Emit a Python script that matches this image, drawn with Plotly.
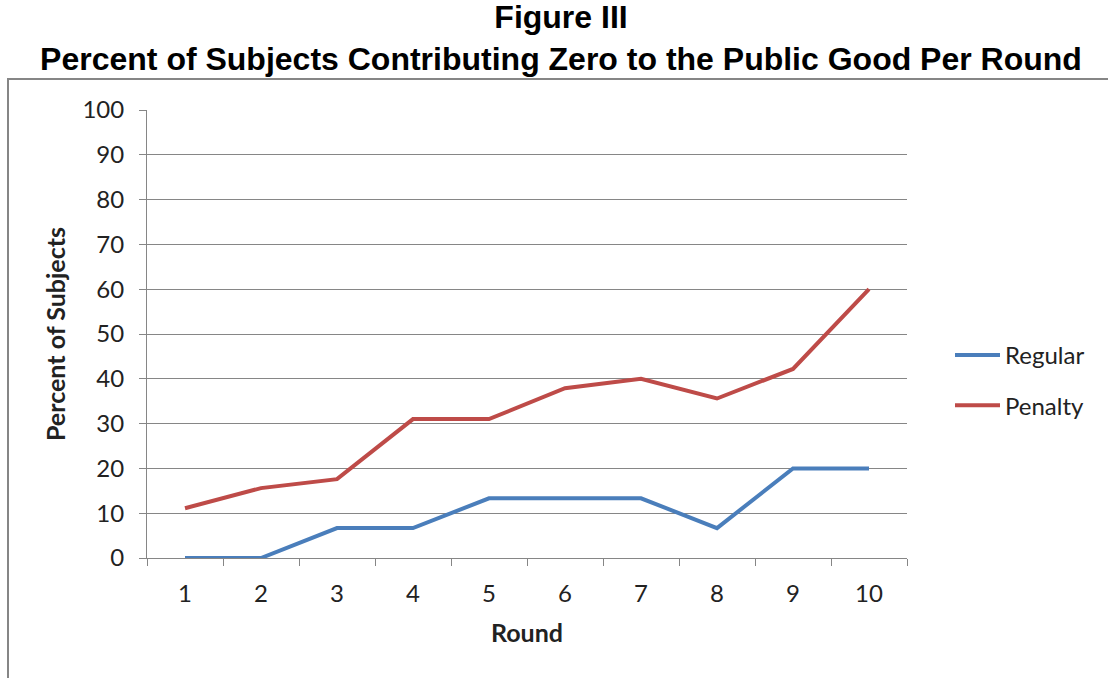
import plotly.graph_objects as go

rounds = ["1", "2", "3", "4", "5", "6", "7", "8", "9", "10"]
regular = [0, 0, 6.67, 6.67, 13.33, 13.33, 13.33, 6.67, 20, 20]
penalty = [11.1, 15.6, 17.6, 31.0, 31.0, 37.9, 40.0, 35.6, 42.2, 60.0]
y_ticks = [0, 10, 20, 30, 40, 50, 60, 70, 80, 90, 100]

TXT = "Lato"
GRAY = "#868686"
TC = "#222222"

fig = go.Figure()
fig.add_trace(go.Scatter(x=rounds, y=regular, mode="lines", name="Regular",
                         legendgroup="a",
                         line=dict(color="#4A7EBB", width=4)))
fig.add_trace(go.Scatter(x=rounds, y=penalty, mode="lines", name="Penalty",
                         legendgroup="b",
                         line=dict(color="#BE4B48", width=4)))

L, R, T, B = 147, 201, 110, 120
W, H = 1108, 678
pw, ph = W - L - R, H - T - B

def px(x):
    return (x - L) / pw

def py(y):
    return (H - B - y) / ph

fig.update_layout(
    width=W, height=H,
    margin=dict(l=L, r=R, t=T, b=B, pad=0),
    paper_bgcolor="white", plot_bgcolor="white",
    font=dict(family=TXT, size=24, color=TC),
    title=dict(
        text="<b>Figure III<br>Percent of Subjects Contributing Zero to the Public Good Per Round</b>",
        font=dict(family="Liberation Sans, Arial", size=32, color="black"),
        x=px(561), xref="paper", xanchor="center",
        y=1 - 28 / H, yref="container", yanchor="middle",
    ),
    xaxis=dict(
        type="category", range=[-0.5, 9.5], tickson="boundaries",
        ticks="outside", ticklen=7,
        tickcolor=GRAY, showline=True, linecolor=GRAY, linewidth=1,
        showgrid=False, zeroline=False,
        ticklabelstandoff=14,
        title=dict(text="<b>Round</b>", font=dict(family=TXT, size=25, color=TC), standoff=18),
        tickfont=dict(family=TXT, size=24, color=TC),
    ),
    yaxis=dict(
        range=[0, 100], tickvals=y_ticks, ticks="outside", ticklen=7,
        tickcolor=GRAY, showline=True, linecolor=GRAY, linewidth=1,
        showgrid=True, gridcolor=GRAY, gridwidth=1, zeroline=False,
        ticklabelstandoff=10,
        title=dict(text="<b>Percent of Subjects</b>", font=dict(family=TXT, size=25, color=TC), standoff=9),
        tickfont=dict(family=TXT, size=24, color=TC),
    ),
    legend=dict(
        x=px(950), xanchor="left", y=py(333), yanchor="top",
        font=dict(family=TXT, size=24, color=TC),
        itemwidth=45,
        tracegroupgap=16, bgcolor="rgba(0,0,0,0)",
    ),
    showlegend=True,
)

fig.add_shape(type="rect", xref="paper", yref="paper",
              x0=px(8), x1=px(1125), y0=py(700), y1=py(79),
              line=dict(color=GRAY, width=2), fillcolor="rgba(0,0,0,0)",
              layer="below")

fig.write_html("out.html")
